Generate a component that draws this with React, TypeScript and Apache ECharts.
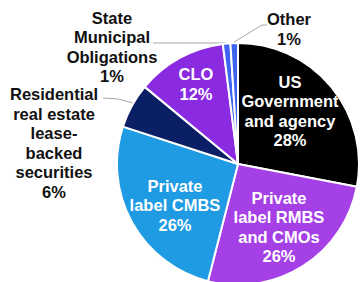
import React, { useEffect, useRef } from "react";
import * as echarts from "echarts";

const categories = [
  "US\nGovernment\nand agency",
  "Private\nlabel RMBS\nand CMOs",
  "Private\nlabel CMBS",
  "Residential\nreal estate\nlease-\nbacked\nsecurities",
  "CLO",
  "State\nMunicipal\nObligations",
  "Other",
];
const values = [28, 26, 26, 6, 12, 1, 1];
const colors = ["#000000", "#A53FE6", "#1E9BE3", "#0A1F66", "#8A2BE2", "#3D63F0", "#3D63F0"];
const outside = [false, false, false, true, false, true, true];

const labelSpots: Record<number, { x: number; y: number; line?: number[][] }> = {
  0: { x: 290, y: 111 },
  1: { x: 279, y: 227 },
  2: { x: 175, y: 205 },
  3: { x: 54, y: 143, line: [[133, 103], [118, 99], [103, 98]] },
  4: { x: 196, y: 84 },
  5: { x: 112, y: 47, line: [[226, 43], [190, 43], [153, 43]] },
  6: { x: 289, y: 29, line: [[234, 42], [262, 25], [267, 25]] },
};

export default function App() {
  const ref = useRef<HTMLDivElement>(null);
  useEffect(() => {
    document.body.style.margin = "0";
    const chart = echarts.init(ref.current!, null, { renderer: "svg" });
    chart.setOption({
      animation: false,
      backgroundColor: "#ffffff",
      series: [
        {
          type: "pie",
          center: [238, 164],
          radius: 121,
          startAngle: 90,
          clockwise: true,
          avoidLabelOverlap: false,
          itemStyle: { borderColor: "#ffffff", borderWidth: 2 },
          label: {
            fontFamily: "Liberation Sans, Arial, sans-serif",
            fontWeight: "bold",
            fontSize: 16.5,
            lineHeight: 19.5,
            align: "center",
          },
          labelLine: { lineStyle: { color: "#a6a6a6", width: 1 } },
          labelLayout: (p: any) => {
            const s = labelSpots[p.dataIndex];
            const r: any = { x: s.x, y: s.y, align: "center", verticalAlign: "middle" };
            if (s.line) r.labelLinePoints = s.line;
            return r;
          },
          data: categories.map((name, i) => ({
            name,
            value: values[i],
            itemStyle: { color: colors[i] },
            label: {
              show: true,
              position: outside[i] ? "outside" : "inside",
              color: outside[i] ? "#111111" : "#ffffff",
              formatter: "{b}\n{c}%",
            },
            labelLine: { show: outside[i], length: 10, length2: 10 },
          })),
        },
      ],
    });
    return () => chart.dispose();
  }, []);
  return <div ref={ref} style={{ width: 360, height: 282 }} />;
}
